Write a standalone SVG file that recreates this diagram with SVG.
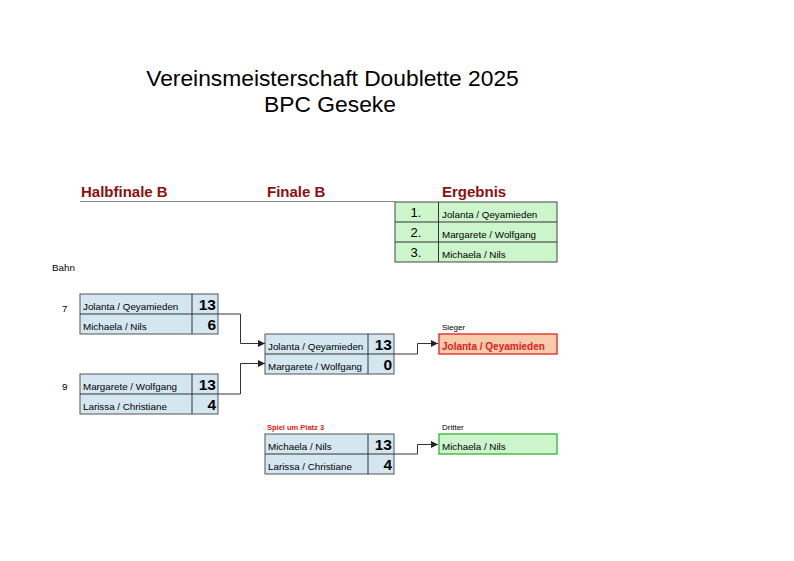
<svg xmlns="http://www.w3.org/2000/svg" width="794" height="561" viewBox="0 0 794 561">
<defs>
<marker id="arr" viewBox="0 0 8 8" refX="8" refY="4" markerWidth="7" markerHeight="7" markerUnits="userSpaceOnUse" orient="auto"><path d="M0,0 L8,4 L0,8 z" fill="#222"/></marker>
<style>
text{font-family:"Liberation Sans",Arial,sans-serif;fill:#000}
.title{font-size:22.8px}
.hdr{font-size:15px;font-weight:bold;fill:#8b1010}
.nm{font-size:9.8px}
.sc{font-size:15.5px;font-weight:bold;text-anchor:end}
.sm{font-size:8px}
.box{fill:#d4e7f0;stroke:#555;stroke-width:1}
.res{fill:#ccf5cc;stroke:#444;stroke-width:1}
.ln{fill:none;stroke:#333;stroke-width:1}
.conn{fill:none;stroke:#333;stroke-width:1;marker-end:url(#arr)}
</style>
</defs>
<rect width="794" height="561" fill="#fff"/>
<text class="title" x="332.5" y="86" text-anchor="middle">Vereinsmeisterschaft Doublette 2025</text>
<text class="title" x="330" y="112" text-anchor="middle">BPC Geseke</text>

<text class="hdr" x="81" y="197">Halbfinale B</text>
<text class="hdr" x="267" y="197">Finale B</text>
<text class="hdr" x="442" y="197">Ergebnis</text>
<line x1="80" y1="201.5" x2="395" y2="201.5" stroke="#888" stroke-width="1"/>

<g id="ergebnis">
<rect class="res" x="395" y="202" width="162" height="60"/>
<line class="ln" x1="395" y1="222" x2="557" y2="222"/>
<line class="ln" x1="395" y1="242" x2="557" y2="242"/>
<line class="ln" x1="438.5" y1="202" x2="438.5" y2="262"/>
<text x="416" y="217" font-size="13" text-anchor="middle">1.</text>
<text x="416" y="237" font-size="13" text-anchor="middle">2.</text>
<text x="416" y="257" font-size="13" text-anchor="middle">3.</text>
<text class="nm" x="442" y="218">Jolanta / Qeyamieden</text>
<text class="nm" x="442" y="238">Margarete / Wolfgang</text>
<text class="nm" x="442" y="258">Michaela / Nils</text>
</g>

<text class="nm" x="52" y="271">Bahn</text>

<g id="hf1">
<text class="nm" x="62" y="312">7</text>
<rect class="box" x="80" y="294" width="138" height="40"/>
<line class="ln" x1="80" y1="314" x2="218" y2="314"/>
<line class="ln" x1="192" y1="294" x2="192" y2="334"/>
<text class="nm" x="83" y="310">Jolanta / Qeyamieden</text>
<text class="nm" x="83" y="330">Michaela / Nils</text>
<text class="sc" x="216" y="310">13</text>
<text class="sc" x="216" y="330">6</text>
</g>

<g id="hf2">
<text class="nm" x="62" y="390">9</text>
<rect class="box" x="80" y="374" width="138" height="40"/>
<line class="ln" x1="80" y1="394" x2="218" y2="394"/>
<line class="ln" x1="192" y1="374" x2="192" y2="414"/>
<text class="nm" x="83" y="390">Margarete / Wolfgang</text>
<text class="nm" x="83" y="410">Larissa / Christiane</text>
<text class="sc" x="216" y="390">13</text>
<text class="sc" x="216" y="410">4</text>
</g>

<g id="finale">
<rect class="box" x="265" y="334" width="129" height="40"/>
<line class="ln" x1="265" y1="354" x2="394" y2="354"/>
<line class="ln" x1="368" y1="334" x2="368" y2="374"/>
<text class="nm" x="268" y="350">Jolanta / Qeyamieden</text>
<text class="nm" x="268" y="370">Margarete / Wolfgang</text>
<text class="sc" x="392" y="350">13</text>
<text class="sc" x="392" y="370">0</text>
</g>

<g id="sieger">
<text class="sm" x="442" y="330">Sieger</text>
<rect x="439" y="334" width="118" height="20" fill="#f8cbad" stroke="#e83a3a" stroke-width="1.5"/>
<text x="442" y="350" font-size="10" font-weight="bold" style="fill:#e02020">Jolanta / Qeyamieden</text>
</g>

<g id="platz3">
<text x="267" y="430" font-size="7.5" font-weight="bold" style="fill:#e02020">Spiel um Platz 3</text>
<rect class="box" x="265" y="434" width="129" height="40"/>
<line class="ln" x1="265" y1="454" x2="394" y2="454"/>
<line class="ln" x1="368" y1="434" x2="368" y2="474"/>
<text class="nm" x="268" y="450">Michaela / Nils</text>
<text class="nm" x="268" y="470">Larissa / Christiane</text>
<text class="sc" x="392" y="450">13</text>
<text class="sc" x="392" y="470">4</text>
</g>

<g id="dritter">
<text class="sm" x="442" y="430">Dritter</text>
<rect x="439" y="434" width="118" height="20" fill="#ccf5cc" stroke="#4cbb4c" stroke-width="1.5"/>
<text class="nm" x="442" y="450">Michaela / Nils</text>
</g>

<g id="connectors">
<path class="conn" d="M218,314 H240.5 V343.5 H265"/>
<path class="conn" d="M218,394 H240.5 V363.5 H265"/>
<path class="conn" d="M394,354 H417.5 V343.5 H438"/>
<path class="conn" d="M394,454 H417.5 V444.5 H438"/>
</g>
</svg>
